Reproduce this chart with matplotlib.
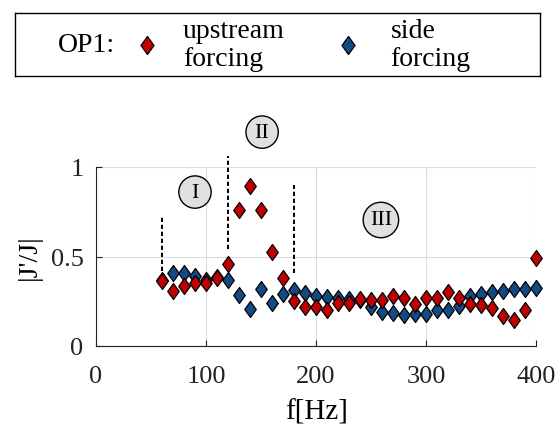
import matplotlib
matplotlib.use("Agg")
import matplotlib.pyplot as plt
from matplotlib.path import Path
import numpy as np

# forcing frequency [Hz]
freq = np.arange(60, 401, 10)

# |J'/J| for upstream forcing (red) and side forcing (blue)
upstream = [0.365, 0.307, 0.337, 0.354, 0.35, 0.378, 0.456, 0.76, 0.892, 0.76,
            0.527, 0.378, 0.25, 0.216, 0.22, 0.203, 0.238, 0.24, 0.262, 0.259,
            0.257, 0.281, 0.266, 0.235, 0.268, 0.268, 0.303, 0.268, 0.233, 0.229,
            0.21, 0.166, 0.147, 0.201, 0.492]
side = [0.37, 0.406, 0.408, 0.393, 0.37, 0.385, 0.37, 0.285, 0.207, 0.318,
        0.238, 0.29, 0.315, 0.294, 0.281, 0.274, 0.266, 0.265, 0.255, 0.22,
        0.188, 0.184, 0.173, 0.177, 0.177, 0.199, 0.201, 0.225, 0.281, 0.292,
        0.302, 0.307, 0.318, 0.318, 0.322]

# regime borders (dashed lines): frequency, lower end, upper end
border_f = [60, 120, 180]
border_lo = [0.42, 0.54, 0.41]
border_hi = [0.73, 1.06, 0.90]

# regime labels
regime_txt = ["I", "II", "III"]
regime_f = [90, 151, 259]
regime_y = [0.86, 1.195, 0.704]

red = "#c00000"
blue = "#114a85"

plt.rcParams["font.family"] = ["Liberation Serif", "DejaVu Serif"]

# tall diamond like in the original figure
diamond = Path([(0, 1), (0.72, 0), (0, -1), (-0.72, 0), (0, 1)],
               [Path.MOVETO, Path.LINETO, Path.LINETO, Path.LINETO, Path.CLOSEPOLY])
mk = dict(marker=diamond, markersize=11.5, markeredgecolor="k", markeredgewidth=0.9,
          linestyle="none", clip_on=False)

fig = plt.figure(figsize=(5.56, 4.35), dpi=100)
ax = fig.add_axes([96/556, 1-347/435, 440/556, 179/435])

ax.plot(freq, side, color=blue, markerfacecolor=blue, zorder=3, **mk)
ax.plot(freq, upstream, color=red, markerfacecolor=red, zorder=4, **mk)

for f, lo, hi in zip(border_f, border_lo, border_hi):
    ax.plot([f, f], [lo, hi], color="k", lw=1.4, linestyle=(0, (2.2, 1.4)),
            clip_on=False, zorder=2)

for t, f, y in zip(regime_txt, regime_f, regime_y):
    ax.text(f, y, t, ha="center", va="center", fontsize=16, clip_on=False,
            bbox=dict(boxstyle="circle,pad=0.3", fc="#e0e0e0", ec="k", lw=1.0))

ax.set_xlim(0, 400)
ax.set_ylim(0, 1)
ax.set_xticks([0, 100, 200, 300, 400])
ax.set_yticks([0, 0.5, 1])
ax.set_yticklabels(["0", "0.5", "1"])
ax.grid(True, color="#dcdcdc", lw=0.8)
ax.set_axisbelow(True)
for s in ["top", "right"]:
    ax.spines[s].set_visible(False)
ax.spines["left"].set_color("#222222")
ax.spines["bottom"].set_color("#222222")
ax.tick_params(direction="in", length=4, labelsize=19, colors="#222222", pad=9)
ax.tick_params(axis="x", pad=14)
ax.set_xlabel("f[Hz]", fontsize=21, labelpad=8)
ax.set_ylabel("|J'/J|", fontsize=20, labelpad=6)

# legend box
lax = fig.add_axes([15/556, 1-77/435, 525/556, 63/435])
lax.set_xlim(0, 1)
lax.set_ylim(0, 1)
lax.set_xticks([])
lax.set_yticks([])
for s in lax.spines.values():
    s.set_linewidth(1.0)
lax.text(0.082, 0.5, "OP1:", fontsize=20, ha="left", va="center")
lax.plot([0.252], [0.5], color=red, markerfacecolor=red, **dict(mk, markersize=13))
lax.text(0.32, 0.5, "upstream\nforcing", fontsize=20, ha="left", va="center",
         linespacing=1.2)
lax.plot([0.635], [0.5], color=blue, markerfacecolor=blue, **dict(mk, markersize=13))
lax.text(0.715, 0.5, "side\nforcing", fontsize=20, ha="left", va="center",
         linespacing=1.2)

fig.savefig("out.png", dpi=100)
